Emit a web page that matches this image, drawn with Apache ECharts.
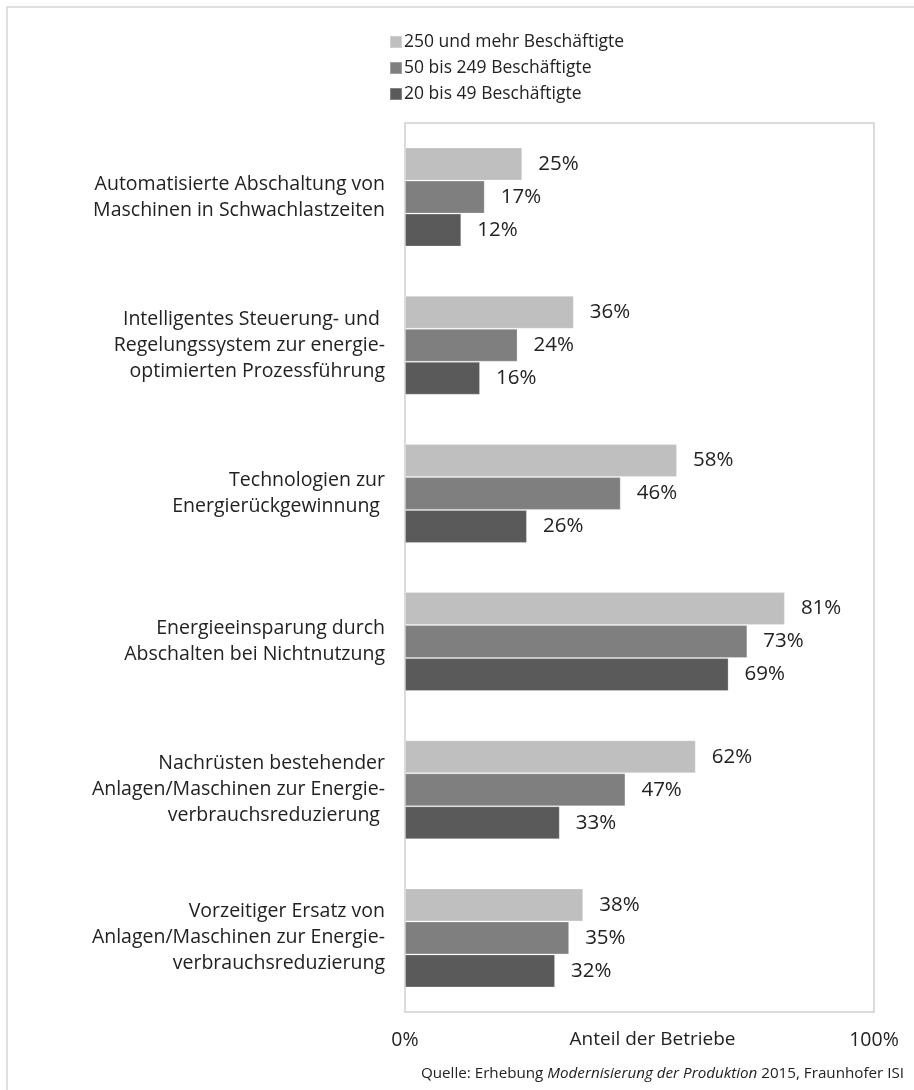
<!DOCTYPE html>
<html><head><meta charset="utf-8">
<script src="https://cdn.jsdelivr.net/npm/echarts@6/dist/echarts.min.js"></script>
<style>html,body{margin:0;padding:0;background:#fff}#c{width:914px;height:1090px}</style>
</head><body><div id="c"></div>
<script>
const categories = [
  "Automatisierte Abschaltung von\nMaschinen in Schwachlastzeiten",
  "Intelligentes Steuerung- und \nRegelungssystem zur energie-\noptimierten Prozessführung",
  "Technologien zur\nEnergierückgewinnung ",
  "Energieeinsparung durch\nAbschalten bei Nichtnutzung",
  "Nachrüsten bestehender\nAnlagen/Maschinen zur Energie-\nverbrauchsreduzierung ",
  "Vorzeitiger Ersatz von\nAnlagen/Maschinen zur Energie-\nverbrauchsreduzierung"
];
const seriesNames = ["250 und mehr Beschäftigte", "50 bis 249 Beschäftigte", "20 bis 49 Beschäftigte"];
const large = [25, 36, 58, 81, 62, 38];
const medium = [17, 24, 46, 73, 47, 35];
const small = [12, 16, 26, 69, 33, 32];
const xTicks = [0, 100];
const axisTitle = "Anteil der Betriebe";
const sourceNote = ["Quelle: Erhebung ", "Modernisierung der Produktion", " 2015, Fraunhofer ISI"];

const FONT = "Open Sans";
const colors = ["#bfbfbf", "#7f7f7f", "#5a5a5a"];
const values = [large, medium, small];

const chart = echarts.init(document.getElementById('c'), null, {renderer: 'canvas'});
chart.setOption({
  animation: false,
  textStyle: {fontFamily: FONT},
  legend: {
    orient: 'vertical', left: 384, top: 28,
    itemWidth: 12, itemHeight: 12, itemGap: 8,
    icon: 'rect',
    textStyle: {fontSize: 17.5, color: '#222', fontFamily: FONT, padding: [0, 0, 0, -3]},
    data: seriesNames
  },
  grid: {left: 405, right: 40, top: 123, bottom: 78, show: true, borderColor: '#cfcfcf', borderWidth: 1.5, backgroundColor: 'transparent'},
  xAxis: {
    type: 'value', min: xTicks[0], max: xTicks[1], interval: 100,
    splitLine: {show: false}, axisLine: {show: false}, axisTick: {show: false},
    axisLabel: {formatter: '{value}%', fontSize: 19.5, color: '#222', margin: 18},
    name: axisTitle, nameLocation: 'middle', nameGap: 18, nameMoveOverlap: false,
    nameTextStyle: {fontSize: 19, color: '#222', padding: [0, 0, 0, 26], verticalAlign: 'top'}
  },
  yAxis: {
    type: 'category', inverse: true, data: categories,
    axisLine: {show: false}, axisTick: {show: false},
    axisLabel: {fontSize: 19.5, color: '#222', margin: 20, lineHeight: 26, align: 'right'}
  },
  graphic: [
    {type: 'rect', shape: {x: 7, y: 7, width: 1000, height: 1200}, style: {fill: 'none', stroke: '#d6d6d6', lineWidth: 1.5}, silent: true, z: -1},
    {type: 'text', right: 10, top: 1066, style: {
      text: '{n|' + sourceNote[0] + '}{i|' + sourceNote[1] + '}{n|' + sourceNote[2] + '}',
      rich: {n: {fontSize: 15.2, fontFamily: FONT, fill: '#222'}, i: {fontSize: 15.2, fontFamily: FONT, fontStyle: 'italic', fill: '#222'}}
    }}
  ],
  series: seriesNames.map((n, i) => ({
    name: n, type: 'bar', data: values[i],
    barWidth: 33, barGap: '0%',
    itemStyle: {color: colors[i], borderColor: 'rgba(255,255,255,0.25)', borderWidth: 1},
    label: {show: true, position: 'right', distance: 16, formatter: '{c}%', fontSize: 20.5, color: '#222', fontFamily: FONT}
  }))
});
</script></body></html>
